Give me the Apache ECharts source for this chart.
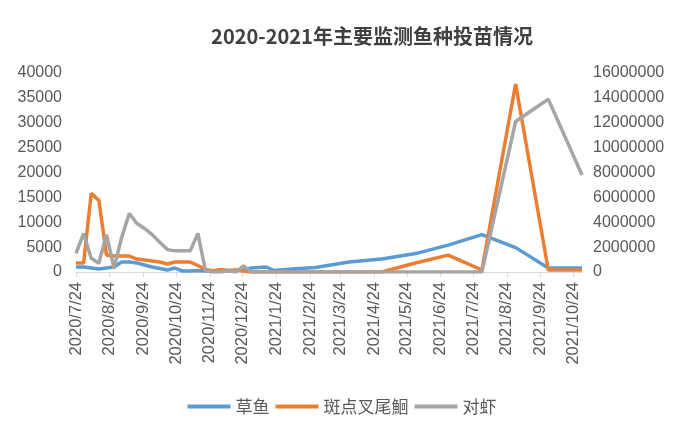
<!DOCTYPE html>
<html>
<head>
<meta charset="utf-8">
<script src="https://cdn.jsdelivr.net/npm/echarts@6/dist/echarts.min.js"></script>
<style>
html,body{margin:0;padding:0;background:#fff;}
#c{width:684px;height:438px;}
</style>
</head>
<body>
<div id="c"></div>
<script>
// ---- data ----
var dates = [
  '2020-07-24','2020-07-31','2020-08-07','2020-08-14','2020-08-21','2020-08-28',
  '2020-09-04','2020-09-11','2020-09-18','2020-09-25','2020-10-02','2020-10-09',
  '2020-10-16','2020-10-23','2020-10-30','2020-11-06','2020-11-13','2020-11-20',
  '2020-11-27','2020-12-04','2020-12-11','2020-12-18','2020-12-25','2021-01-01',
  '2021-01-08','2021-01-15','2021-01-22','2021-02-01','2021-03-01','2021-04-01',
  '2021-05-01','2021-06-01','2021-07-01','2021-08-01','2021-09-01','2021-10-01',
  '2021-11-01'
];
var grassCarp = [
  1000,1000,800,600,800,1000,
  2000,2000,1800,1400,1000,700,
  400,800,200,200,300,200,
  200,200,300,300,400,800,
  900,1000,300,500,900,2000,
  2600,3700,5400,7500,4900,800,
  800
];
var channelCatfish = [
  1800,1800,15800,14400,3400,3200,
  3200,3200,2600,2400,2200,2000,
  1600,2000,2000,2000,1300,500,
  200,500,300,400,200,0,
  0,0,0,0,0,0,
  0,1800,3400,400,37800,400,
  400
];
var shrimp = [
  1500000,3100000,1100000,700000,3000000,300000,
  2800000,4700000,3900000,3500000,3000000,2400000,
  1800000,1700000,1700000,1700000,3100000,100000,
  0,0,100000,0,500000,0,
  0,0,0,0,0,0,
  0,0,0,0,12100000,13900000,
  7800000
];
var seriesNames = ['草鱼','斑点叉尾鮰','对虾'];
var tickLabels = [
  '2020/7/24','2020/8/24','2020/9/24','2020/10/24','2020/11/24','2020/12/24',
  '2021/1/24','2021/2/24','2021/3/24','2021/4/24','2021/5/24','2021/6/24',
  '2021/7/24','2021/8/24','2021/9/24','2021/10/24'
];
var titleText = '2020-2021年主要监测鱼种投苗情况';

// ---- helpers: dates -> day number (UTC, no DST issues) ----
function dayNum(s){
  var p = s.split(/[-\/]/).map(Number);
  return Math.round(Date.UTC(p[0], p[1]-1, p[2]) / 86400000);
}
var day0 = dayNum(dates[0]);
function dx(s){ return dayNum(s) - day0; }
function pairs(vals){
  return vals.map(function(v,i){ return [dx(dates[i]), v]; });
}
var tickValues = tickLabels.map(dx);
var labelMap = {};
tickLabels.forEach(function(l){ labelMap[dx(l)] = l; });

var font = '"Liberation Sans", Arial, "Noto Sans CJK SC", sans-serif';
var cjk = '"Noto Sans CJK SC", "Liberation Sans", sans-serif';
var textColor = '#595959';
function plain(v){ return String(v); }

var chart = echarts.init(document.getElementById('c'), null, {renderer:'canvas'});
chart.setOption({
  animation: false,
  backgroundColor: '#ffffff',
  title: {
    text: titleText,
    left: 367, top: 21, textAlign: 'center',
    textStyle: {fontFamily: cjk, fontSize: 20, fontWeight: 'bold', color: '#404040'}
  },
  legend: {
    bottom: 18, left: 'center',
    itemWidth: 43, itemHeight: 4, itemGap: 6,
    icon: 'rect',
    textStyle: {fontFamily: cjk, fontSize: 17, color: textColor},
    data: seriesNames
  },
  grid: {left: 76, right: 102, top: 73, bottom: 166, containLabel: false},
  xAxis: {
    type: 'value',
    min: 0,
    max: dx(dates[dates.length-1]),
    axisLine: {show: true, onZero: false, lineStyle: {color: '#d9d9d9', width: 1}},
    axisTick: {show: true, length: 5, lineStyle: {color: '#d9d9d9'}, customValues: tickValues},
    axisLabel: {
      customValues: tickValues,
      rotate: 90,
      margin: 10,
      fontFamily: font, fontSize: 16.5, color: textColor,
      formatter: function(v){ return labelMap[Math.round(v)] || ''; }
    },
    splitLine: {show: false}
  },
  yAxis: [{
    type: 'value', min: 0, max: 40000, interval: 5000,
    axisLine: {show: false}, axisTick: {show: false},
    splitLine: {show: false},
    axisLabel: {fontFamily: font, fontSize: 16, color: textColor, margin: 14, formatter: plain}
  },{
    type: 'value', min: 0, max: 16000000, interval: 2000000,
    axisLine: {show: false}, axisTick: {show: false},
    splitLine: {show: false},
    axisLabel: {fontFamily: font, fontSize: 16, color: textColor, margin: 11, formatter: plain}
  }],
  series: [{
    name: seriesNames[0], type: 'line', yAxisIndex: 0,
    data: pairs(grassCarp), showSymbol: false, symbol: 'none',
    lineStyle: {color: '#5b9bd5', width: 3.5}, itemStyle: {color: '#5b9bd5'}
  },{
    name: seriesNames[1], type: 'line', yAxisIndex: 0,
    data: pairs(channelCatfish), showSymbol: false, symbol: 'none',
    lineStyle: {color: '#ed7d31', width: 3.5}, itemStyle: {color: '#ed7d31'}
  },{
    name: seriesNames[2], type: 'line', yAxisIndex: 1,
    data: pairs(shrimp), showSymbol: false, symbol: 'none',
    lineStyle: {color: '#a5a5a5', width: 3.5}, itemStyle: {color: '#a5a5a5'}
  }]
});
</script>
</body>
</html>
